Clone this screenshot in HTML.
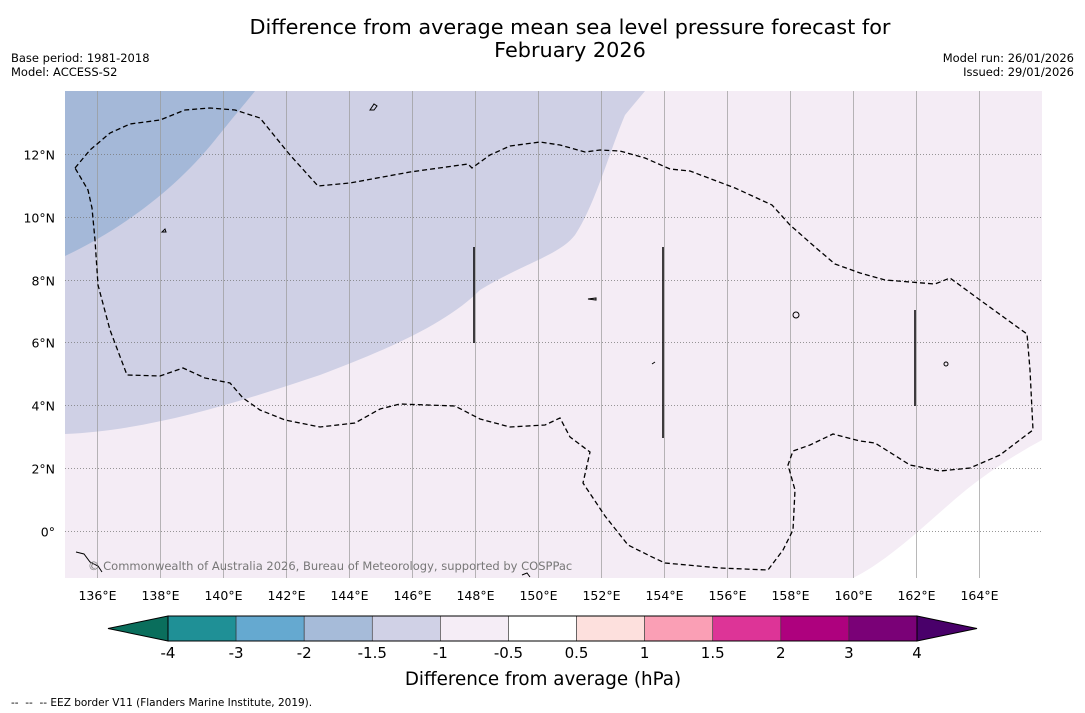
<!DOCTYPE html>
<html><head><meta charset="utf-8"><style>
body{margin:0;background:#fff;font-family:"DejaVu Sans","Liberation Sans",sans-serif;}
svg{display:block}
</style></head><body>
<svg width="1085" height="713" viewBox="0 0 1085 713" xmlns="http://www.w3.org/2000/svg" font-family="DejaVu Sans, Liberation Sans, sans-serif">
<text x="570" y="34" text-anchor="middle" font-size="20.8" fill="#000">Difference from average mean sea level pressure forecast for</text>
<text x="570" y="57" text-anchor="middle" font-size="20.8" fill="#000">February 2026</text>
<text x="11" y="62" font-size="11.5">Base period: 1981-2018</text>
<text x="11" y="76" font-size="11.5">Model: ACCESS-S2</text>
<text x="1074" y="62" font-size="11.5" text-anchor="end">Model run: 26/01/2026</text>
<text x="1074" y="76" font-size="11.5" text-anchor="end">Issued: 29/01/2026</text>

<defs><clipPath id="mc"><rect x="65" y="91" width="977" height="487"/></clipPath></defs>
<g clip-path="url(#mc)">
<rect x="65" y="91" width="977" height="487" fill="#f4ecf5"/>
<path d="M65,434 C150,430 230,405 320,375 C400,345 450,320 480,290 C520,265 560,255 575,235 C595,205 610,150 625,115 L645,91 L65,91 Z" fill="#cfd0e5"/>
<path d="M65,256 C120,230 175,190 215,140 C235,115 248,100 255,91 L65,91 Z" fill="#a4b8d8"/>
<path d="M853,578 C890,560 930,520 960,495 C990,470 1020,452 1042,440 L1042,578 Z" fill="#ffffff"/>
<g id="grid"></g>
<path d="M75,168 L90,150 L110,133 L130,124 L160,120 L185,110 L210,108 L235,110 L260,118 L290,155 L318,186 L350,183 L410,172 L468,164 L472,168 L490,155 L510,146 L540,142 L560,145 L585,152 L600,150 L620,151 L645,158 L670,169 L690,171 L735,188 L772,205 L790,225 L815,247 L835,264 L860,273 L885,280 L935,284 L950,278 L980,300 L1027,334 L1030,370 L1033,430 L1025,436 L1000,455 L970,468 L940,471 L910,465 L875,443 L860,441 L833,434 L810,445 L793,451 L788,465 L795,490 L793,530 L783,550 L768,570 L720,568 L665,563 L650,556 L628,545 L605,516 L583,483 L590,452 L570,437 L560,418 L545,425 L510,427 L480,419 L455,406 L400,404 L380,409 L355,423 L320,427 L285,420 L260,410 L243,398 L230,383 L205,378 L183,368 L160,376 L127,375 L110,330 L98,285 L95,240 L92,208 L88,190 Z" fill="none" stroke="#000" stroke-width="1.3" stroke-dasharray="5,3"/>
<line x1="474" y1="247" x2="474" y2="343" stroke="#000" stroke-width="1.5"/>
<line x1="663" y1="247" x2="663" y2="438" stroke="#000" stroke-width="1.5"/>
<line x1="915" y1="310" x2="915" y2="406" stroke="#000" stroke-width="1.5"/>
<g fill="none" stroke="#000" stroke-width="1">
<path d="M370,110 l4,-6 l3,2 l-3,4 z"/><path d="M162,232 l3,-3 l1,3 z"/><path d="M588,299 l8,-1 l0,2 z"/><circle cx="796" cy="315" r="3"/><circle cx="946" cy="364" r="2"/><path d="M652,364 l3,-2"/><path d="M76,552 l8,2 l6,8 l8,4 l4,6"/><path d="M522,575 l5,-2 l3,4"/>
</g>
<text x="88" y="570" font-size="11.5" fill="#777">© Commonwealth of Australia 2026, Bureau of Meteorology, supported by COSPPac</text>
</g>
<g id="xticks"></g>
<g id="yticks"></g>
<g id="cbar"></g>
<text x="543" y="685" text-anchor="middle" font-size="18.3">Difference from average (hPa)</text>
<text x="11" y="706" font-size="10.5" style="white-space:pre">--  --  -- EEZ border V11 (Flanders Marine Institute, 2019).</text>
</svg>
<script>
const lonTicks=[136,138,140,142,144,146,148,150,152,154,156,158,160,162,164];
const latTicks=[0,2,4,6,8,10,12];
const cbLevels=["-4","-3","-2","-1.5","-1","-0.5","0.5","1","1.5","2","3","4"];
const cbColors=["#1f9096","#65a9d0","#a6bbd9","#d0d1e6","#f5edf6","#ffffff","#fde0dd","#fa9fb5","#dd3497","#ae017e","#7a0177"];
const NS="http://www.w3.org/2000/svg";
const x0=65,x1=1042,y0=91,y1=578,lonMin=134.984,lonMax=166.0,latMin=-1.5,latMax=14;
const xs=l=>x0+(l-lonMin)/(lonMax-lonMin)*(x1-x0);
const ys=l=>y1-(l-latMin)/(latMax-latMin)*(y1-y0);
function mk(t,a,p){const e=document.createElementNS(NS,t);for(const k in a)e.setAttribute(k,a[k]);p.appendChild(e);return e;}
const grid=document.getElementById('grid'),xt=document.getElementById('xticks'),yt=document.getElementById('yticks'),cb=document.getElementById('cbar');
lonTicks.forEach(l=>{const x=Math.round(xs(l))+0.5;
const g=mk('line',{x1:x,x2:x,y1:y0,y2:y1,stroke:'#9a9a9a','stroke-width':0.7},grid);


const t=mk('text',{x:x,y:600,'text-anchor':'middle','font-size':12.5},xt);t.textContent=l+'°E';

});
latTicks.forEach(l=>{const y=Math.round(ys(l))+0.5;
const g=mk('line',{x1:x0,x2:x1,y1:y,y2:y,stroke:'#777','stroke-width':0.8,'stroke-dasharray':'1,2'},grid);


const t=mk('text',{x:55,y:y+5,'text-anchor':'end','font-size':12.5},yt);t.textContent=l===0?'0°':l+'°N';

});
const cbx0=168,cbx1=917,cby=616,cbh=25,n=cbColors.length,w=(cbx1-cbx0)/n;
const lt=mk('polygon',{points:`${cbx0},${cby} ${cbx0},${cby+cbh} 108,${cby+cbh/2}`,fill:'#0a6e5c',stroke:'#000','stroke-width':1},cb);


const rt=mk('polygon',{points:`${cbx1},${cby} ${cbx1},${cby+cbh} 977,${cby+cbh/2}`,fill:'#49006a',stroke:'#000','stroke-width':1},cb);


cbColors.forEach((c,i)=>{const r=mk('rect',{x:cbx0+i*w,y:cby,width:w,height:cbh,fill:c,stroke:'#333','stroke-width':0.6},cb);

});
mk('rect',{x:cbx0,y:cby,width:cbx1-cbx0,height:cbh,fill:'none',stroke:'#000','stroke-width':1},cb);
cbLevels.forEach((s,i)=>{const t=mk('text',{x:cbx0+i*w,y:658,'text-anchor':'middle','font-size':15},cb);t.textContent=s;

});
</script>
</body></html>
